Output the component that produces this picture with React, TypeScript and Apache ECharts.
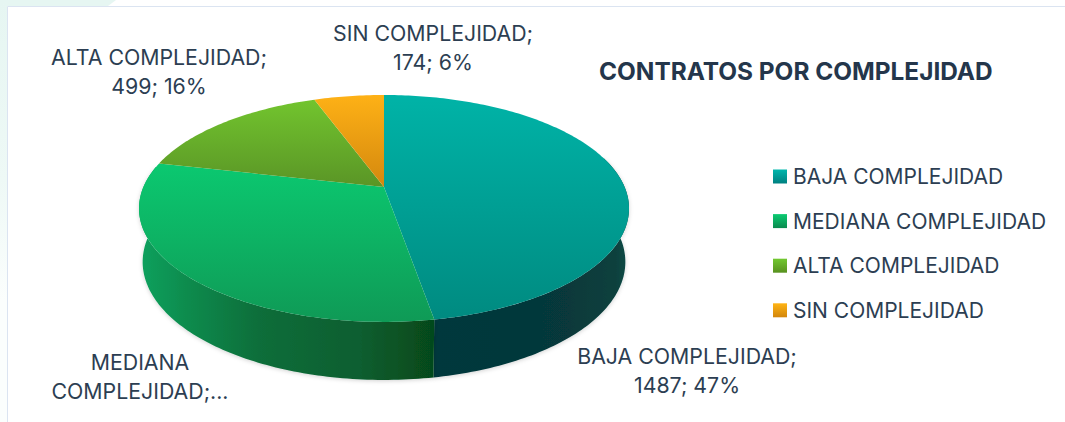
import React, { useEffect, useRef } from "react";
import * as echarts from "echarts";

const TITLE = "CONTRATOS POR COMPLEJIDAD";
const categories = ["BAJA COMPLEJIDAD", "MEDIANA COMPLEJIDAD", "ALTA COMPLEJIDAD", "SIN COMPLEJIDAD"];
const values = [1487, 985, 499, 174];
const labelLines = [
  ["BAJA COMPLEJIDAD;", "1487; 47%"],
  ["MEDIANA", "COMPLEJIDAD;..."],
  ["ALTA COMPLEJIDAD;", "499; 16%"],
  ["SIN COMPLEJIDAD;", "174; 6%"],
];
const FONT = "Inter";
const INK = "#2c3e52";

const CX = 384, CY = 187, B = 240.6, A = 109.4, K = 0.189;
const total = values.reduce((a, b) => a + b, 0);

function topPoint(t: number): number[] {
  const X = Math.sin(t), Y = -Math.cos(t), w = 1 - K * Y;
  return [CX + (B * X) / w, CY + (A * Y) / w];
}
function bottomPoint(t: number): number[] {
  const p = topPoint(t);
  return [CX + (p[0] - CX) * 0.985, 262 + (p[1] - 208.5) * 1.04];
}
function arc(fn: (t: number) => number[], a: number, b: number): number[][] {
  const n = Math.max(2, Math.ceil((Math.abs(b - a) * 180) / Math.PI));
  const out: number[][] = [];
  for (let i = 0; i <= n; i++) out.push(fn(a + ((b - a) * i) / n));
  return out;
}
const V0 = (74 * Math.PI) / 180, V1 = (281 * Math.PI) / 180;

const grad = (x: number, y: number, x2: number, y2: number, stops: [number, string][], global = true) =>
  new echarts.graphic.LinearGradient(x, y, x2, y2, stops.map(([offset, color]) => ({ offset, color })), global);

const topFill = [
  grad(0, 95, 0, 322, [[0, "#00b3a7"], [1, "#008a80"]]),
  grad(0, 165, 0, 322, [[0, "#0bc870"], [1, "#0f9a56"]]),
  grad(0, 100, 0, 187, [[0, "#72c42e"], [1, "#5a9526"]]),
  grad(0, 95, 0, 187, [[0, "#feb116"], [1, "#d4880e"]]),
];
const legendFill = [
  grad(0, 0, 0, 1, [[0, "#00b7ad"], [1, "#008080"]], false),
  grad(0, 0, 0, 1, [[0, "#0bcb72"], [1, "#0a8a4e"]], false),
  grad(0, 0, 0, 1, [[0, "#72c830"], [1, "#58911f"]], false),
  grad(0, 0, 0, 1, [[0, "#ffb414"], [1, "#d2860c"]], false),
];
const sideFill = [
  grad(433, 0, 628, 0, [[0, "#02373c"], [0.7, "#07393a"], [0.93, "#08403d"], [1, "#0a4a46"]]),
  grad(142, 0, 433, 0, [[0, "#10a05d"], [0.15, "#0e8c4e"], [0.4, "#0b6e3a"], [0.75, "#0a5e30"], [1, "#06491a"]]),
  grad(0, 0, 1, 0, [[0, "#4b7d1e"], [1, "#4b7d1e"]], false),
  grad(0, 0, 1, 0, [[0, "#b5740c"], [1, "#b5740c"]], false),
];

function makeSeries() {
  let cum = 0;
  return categories.map((name, i) => {
    const a = (cum / total) * 2 * Math.PI;
    cum += values[i];
    const b = (cum / total) * 2 * Math.PI;
    return {
      type: "custom",
      name,
      coordinateSystem: "none",
      silent: true,
      itemStyle: { color: legendFill[i] },
      data: [values[i]],
      renderItem: () => {
        const children: any[] = [];
        const s0 = Math.max(a, V0), s1 = Math.min(b, V1);
        if (s1 > s0) {
          const pts = arc(topPoint, s0, s1).concat(arc(bottomPoint, s1, s0));
          children.push({
            type: "polygon",
            z2: 1,
            shape: { points: pts },
            style: { fill: sideFill[i], shadowBlur: 4, shadowColor: "rgba(0,0,0,0.18)", shadowOffsetY: 1 },
          });
        }
        children.push({
          type: "polygon",
          z2: 10,
          shape: { points: [[CX, CY], ...arc(topPoint, a, b)] },
          style: { fill: topFill[i] },
        });
        return { type: "group", children };
      },
    };
  });
}

const labelPos = [
  [687, 356],
  [140, 362],
  [159, 57],
  [433, 33],
];

function makeGraphic() {
  const els: any[] = [
    { type: "polygon", shape: { points: [[0, 0], [116, 0], [108, 6], [0, 6]] }, style: { fill: "#e6f6f2" } },
    { type: "polygon", shape: { points: [[0, 0], [7, 0], [7, 422], [0, 422]] },
      style: { fill: grad(0, 0, 0, 300, [[0, "#e6f6f2"], [0.6, "#eef9f6"], [1, "#fbfefd"]]) } },
    { type: "rect", shape: { x: 7.5, y: 6.5, width: 1100, height: 500 }, style: { fill: "#ffffff", stroke: "#dbe4f1", lineWidth: 1 } },
  ];
  labelLines.forEach((lines, i) => {
    lines.forEach((text, j) => {
      els.push({
        type: "text",
        x: labelPos[i][0],
        y: labelPos[i][1] + j * 28.7,
        style: { text, fill: INK, font: `21.3px ${FONT}`, align: "center", verticalAlign: "middle" },
      });
    });
  });
  return els;
}

export default function App() {
  const ref = useRef<HTMLDivElement>(null);
  useEffect(() => {
    const chart = echarts.init(ref.current!, undefined, { renderer: "svg" });
    chart.setOption({
      animation: false,
      backgroundColor: "#ffffff",
      title: {
        text: TITLE,
        left: 599,
        top: 58.5,
        padding: 0,
        textStyle: { fontFamily: FONT, fontWeight: "bold", fontSize: 24.4, color: "#24364b" },
      },
      legend: {
        left: 773,
        top: 166,
        orient: "vertical",
        icon: "rect",
        itemWidth: 14,
        itemHeight: 14,
        itemGap: 23.6,
        padding: 0,
        data: categories,
        selectedMode: false,
        textStyle: { fontFamily: FONT, fontSize: 21, color: INK, lineHeight: 20, padding: [0, 0, 0, 1] },
      },
      graphic: { elements: makeGraphic() },
      series: makeSeries(),
    });
    return () => chart.dispose();
  }, []);
  return <div ref={ref} style={{ position: "absolute", left: 0, top: 0, width: 1065, height: 422 }} />;
}
